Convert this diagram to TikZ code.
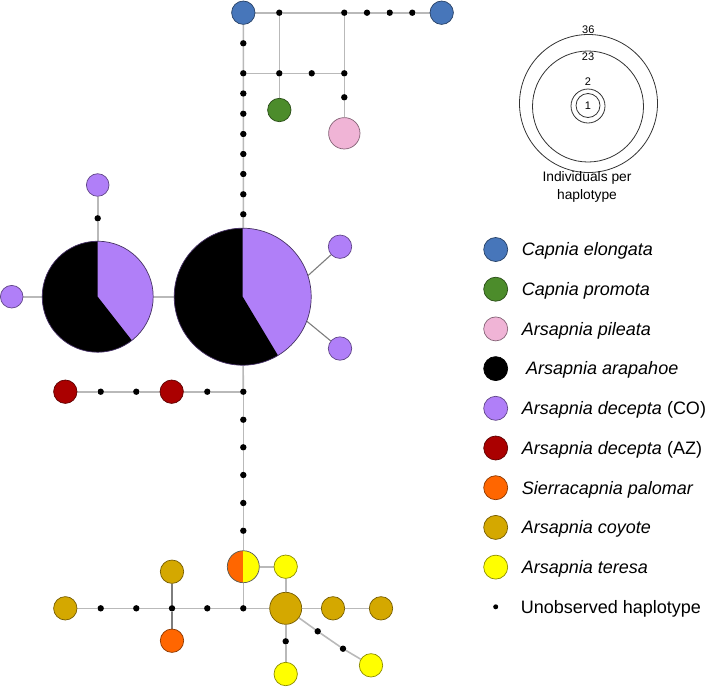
\documentclass[tikz,border=0pt]{standalone}
\usepackage{fontspec}
\setmainfont{Liberation Sans}
\pgfdeclarelayer{bg}
\pgfsetlayers{bg,main}
\definecolor{cblue}{RGB}{71,118,186}
\definecolor{cgreen}{RGB}{76,140,43}
\definecolor{cpink}{RGB}{240,180,214}
\definecolor{cpurple}{RGB}{176,127,248}
\definecolor{cred}{RGB}{170,0,0}
\definecolor{corange}{RGB}{255,102,0}
\definecolor{ccoyote}{RGB}{212,168,0}
\definecolor{cyellow}{RGB}{255,255,0}
\definecolor{edgegray}{RGB}{185,185,185}
\definecolor{darkedgegray}{RGB}{125,125,125}
\tikzset{
  hap/.style={circle, inner sep=0pt, line width=0.7pt, fill=#1, draw=#1!55!black, minimum size=23.4pt},
  bighap/.style={hap=#1, minimum size=32pt},
  dotnode/.style={circle, inner sep=0pt, fill=black, minimum size=6.4pt},
  edge/.style={draw=edgegray, line width=1.6pt},
  darkedge/.style={draw=darkedgegray, line width=1.1pt},
  sizecirc/.style={circle, inner sep=0pt, draw=black!80, line width=0.8pt},
  legtext/.style={anchor=base west, inner sep=0pt, font=\fontsize{18}{21}\selectfont},
  numtext/.style={anchor=base, inner sep=0pt, font=\fontsize{11}{13}\selectfont},
  captext/.style={anchor=base, inner sep=0pt, font=\fontsize{13.8}{16}\selectfont},
}
\begin{document}
\begin{tikzpicture}[x=1pt, y=-1pt]
\useasboundingbox (0,0) rectangle (709,686);

% ---------- top part ----------
\node[hap=cblue] (ce1) at (243.3,12.7) {};
\node[hap=cblue] (ce2) at (441.7,12.7) {};
\node[dotnode] (d1) at (279.3,12.7) {};
\node[dotnode] (d2) at (344.3,12.7) {};
\node[dotnode] (d3) at (367,12.7) {};
\node[dotnode] (d4) at (389.7,12.7) {};
\node[dotnode] (d5) at (412.3,12.7) {};
\node[dotnode] (v1) at (243.3,43.3) {};
\node[dotnode] (v2) at (243.3,73.3) {};
\node[dotnode] (v3) at (243.3,93.5) {};
\node[dotnode] (v4) at (243.3,113.7) {};
\node[dotnode] (v5) at (243.3,134) {};
\node[dotnode] (v6) at (243.3,154) {};
\node[dotnode] (v7) at (243.3,174) {};
\node[dotnode] (v8) at (243.3,194.3) {};
\node[dotnode] (v9) at (243.3,214.3) {};
\node[dotnode] (h1) at (279.3,73.3) {};
\node[dotnode] (h2) at (311.7,73.3) {};
\node[dotnode] (h3) at (344.3,73.3) {};
\node[dotnode] (pd) at (344.3,97.3) {};
\node[hap=cgreen] (cp) at (279.3,110) {};
\node[hap=cpink, minimum size=31.4pt] (ap) at (344.3,133.3) {};

% ---------- pies ----------
\node[circle, inner sep=0pt, minimum size=137pt, fill=cpurple, draw=cpurple!40!black, line width=0.7pt,
  path picture={\fill[black] (path picture bounding box.center) -- ++(90:80pt)
    arc[start angle=90, end angle=301, radius=80pt] -- cycle;}] (bp) at (242.7,296.7) {};
\node[circle, inner sep=0pt, minimum size=111pt, fill=cpurple, draw=cpurple!40!black, line width=0.7pt,
  path picture={\fill[black] (path picture bounding box.center) -- ++(90:70pt)
    arc[start angle=90, end angle=308, radius=70pt] -- cycle;}] (sp) at (97.7,296.7) {};
\node[hap=cpurple, minimum size=22.6pt] (pu1) at (97.7,185) {};
\node[dotnode] (pud) at (97.7,218.3) {};
\node[hap=cpurple, minimum size=22.6pt] (pu2) at (11.7,296.7) {};
\node[hap=cpurple] (pu3) at (340,246.7) {};
\node[hap=cpurple] (pu4) at (340,348.5) {};

% ---------- red row ----------
\node[hap=cred] (r1) at (65.3,391.7) {};
\node[dotnode] (rd1) at (100.7,391.7) {};
\node[dotnode] (rd2) at (136.3,391.7) {};
\node[hap=cred] (r2) at (171.7,391.7) {};
\node[dotnode] (rd3) at (207.3,391.7) {};
\node[dotnode] (j1) at (243.3,391.7) {};
\node[dotnode] (w1) at (243.3,419.7) {};
\node[dotnode] (w2) at (243.3,447.3) {};
\node[dotnode] (w3) at (243.3,475) {};
\node[dotnode] (w4) at (243.3,503) {};
\node[dotnode] (w5) at (243.3,530.7) {};

% ---------- bottom ----------
\node[circle, inner sep=0pt, minimum size=32pt, fill=cyellow, draw=black!65, line width=0.7pt,
  path picture={\fill[corange] (path picture bounding box.south west) rectangle (path picture bounding box.north);}] (half) at (243.3,566.7) {};
\node[hap=cyellow] (ty1) at (285.7,566.7) {};
\node[bighap=ccoyote] (bc) at (285.7,608.3) {};
\node[dotnode] (j2) at (243.3,608.3) {};
\node[hap=ccoyote] (cy1) at (65.3,608.3) {};
\node[dotnode] (bd1) at (100.7,608.3) {};
\node[dotnode] (bd2) at (136.3,608.3) {};
\node[dotnode] (j3) at (172,608.3) {};
\node[dotnode] (bd3) at (207.3,608.3) {};
\node[hap=ccoyote] (cy2) at (333,608.3) {};
\node[hap=ccoyote] (cy3) at (381,608.3) {};
\node[hap=ccoyote] (cy4) at (172,571.7) {};
\node[hap=corange] (or1) at (172,640.7) {};
\node[dotnode] (bd4) at (285.7,641.3) {};
\node[hap=cyellow] (ty2) at (285.7,674) {};
\node[dotnode] (bd5) at (317.7,631.3) {};
\node[dotnode] (bd6) at (343,648.7) {};
\node[hap=cyellow] (ty3) at (371,665.3) {};

% ---------- edges ----------
\begin{pgfonlayer}{bg}
\draw[edge] (ce1) -- (d1) -- (d2) -- (d3) -- (d4) -- (d5) -- (ce2);
\draw[edge] (ce1) -- (v1) -- (v2) -- (v3) -- (v4) -- (v5) -- (v6) -- (v7) -- (v8) -- (v9) -- (bp);
\draw[edge] (v2) -- (h1) -- (h2) -- (h3);
\draw[edge] (d1) -- (h1) -- (cp);
\draw[edge] (d2) -- (h3) -- (pd) -- (ap);
\draw[edge] (pu1) -- (pud) -- (sp);
\draw[edge] (pu2) -- (sp);
\draw[edge] (sp) -- (bp);
\draw[darkedge] (bp.18) -- (pu3);
\draw[darkedge] (bp.-21) -- (pu4);
\draw[edge] (bp) -- (j1);
\draw[edge] (r1) -- (rd1) -- (rd2) -- (r2) -- (rd3) -- (j1);
\draw[edge] (j1) -- (w1) -- (w2) -- (w3) -- (w4) -- (w5) -- (half);
\draw[edge] (half) -- (ty1) -- (bc);
\draw[edge] (half) -- (j2);
\draw[edge] (cy1) -- (bd1) -- (bd2) -- (j3) -- (bd3) -- (j2) -- (bc) -- (cy2) -- (cy3);
\draw[darkedge, line width=1.5pt] (cy4) -- (j3) -- (or1);
\draw[edge] (bc) -- (bd4) -- (ty2);
\draw[edge] (bc) -- (bd5) -- (bd6) -- (ty3);
\end{pgfonlayer}

% ---------- size legend ----------
\node[sizecirc, minimum size=138pt] (s36) at (588.5,103.5) {};
\node[sizecirc, minimum size=111pt] (s23) at (588,106.5) {};
\node[sizecirc, minimum size=34pt] (s2) at (588,106) {};
\node[sizecirc, minimum size=24pt] (s1) at (588,105.5) {};
\node[numtext] (n36) at (588.3,33.5) {36};
\node[numtext] (n23) at (588,60.7) {23};
\node[numtext] (n2) at (588,85) {2};
\node[numtext] (n1) at (588,109.3) {1};
\node[captext] (cap1) at (587,181.7) {Individuals per};
\node[captext] (cap2) at (587,199.3) {haplotype};

% ---------- colour legend ----------
\node[hap=cblue, minimum size=24pt] (l1) at (495.7,249.5) {};
\node[hap=cgreen, minimum size=24pt] (l2) at (495.7,289.2) {};
\node[hap=cpink, minimum size=24pt] (l3) at (495.7,328.9) {};
\node[hap=black, draw=black, minimum size=24pt] (l4) at (495.7,368.6) {};
\node[hap=cpurple, minimum size=24pt] (l5) at (495.7,408.3) {};
\node[hap=cred, minimum size=24pt] (l6) at (495.7,448) {};
\node[hap=corange, minimum size=24pt] (l7) at (495.7,487.7) {};
\node[hap=ccoyote, minimum size=24pt] (l8) at (495.7,527.4) {};
\node[hap=cyellow, minimum size=24pt] (l9) at (495.7,567.1) {};
\node[dotnode, minimum size=5pt] (l10) at (495.7,606.8) {};
\node[legtext] (t1) at (521.7,255.8) {\textit{Capnia elongata}};
\node[legtext] (t2) at (521.7,295.5) {\textit{Capnia promota}};
\node[legtext] (t3) at (521.7,335.2) {\textit{Arsapnia pileata}};
\node[legtext] (t4) at (526,374.9) {\textit{Arsapnia arapahoe}};
\node[legtext] (t5) at (521.7,414.6) {\textit{Arsapnia decepta} (CO)};
\node[legtext] (t6) at (521.7,454.3) {\textit{Arsapnia decepta} (AZ)};
\node[legtext] (t7) at (521.7,494) {\textit{Sierracapnia palomar}};
\node[legtext] (t8) at (521.7,533.7) {\textit{Arsapnia coyote}};
\node[legtext] (t9) at (521.7,573.4) {\textit{Arsapnia teresa}};
\node[legtext] (t10) at (520.7,613.1) {Unobserved haplotype};
\end{tikzpicture}
\end{document}
